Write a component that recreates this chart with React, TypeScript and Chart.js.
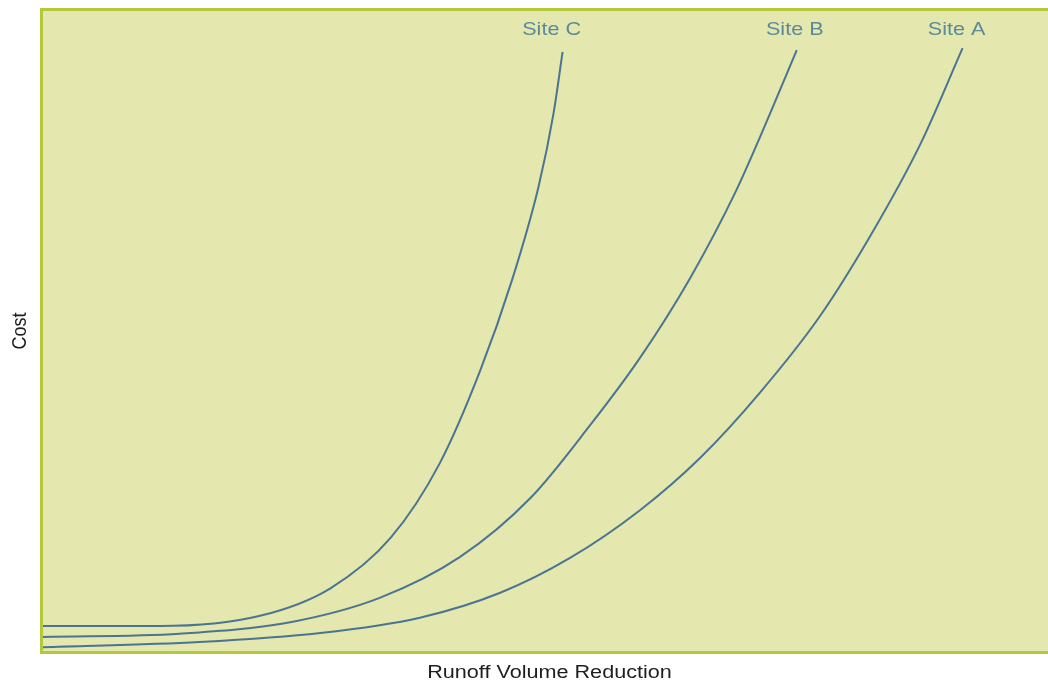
import React, { useEffect, useRef } from "react";
import { Chart, registerables } from "chart.js";

Chart.register(...registerables);

// Runoff volume reduction (x, % of axis) and cost (y, % of axis)
const siteAX = [0, 15.6, 27.6, 37.5, 45.5, 52.4, 59.4, 65.4, 71.3, 77.3, 82.3, 87.3, 91.5];
const siteAY = [0.6, 1.4, 2.8, 5.2, 9.1, 14.5, 22.0, 30.2, 40.3, 52.3, 64.8, 79.2, 94.2];

const siteBX = [0, 13.6, 24.6, 33.5, 41.5, 48.5, 54.4, 59.4, 64.4, 68.9, 72.3, 75.0];
const siteBY = [2.2, 2.7, 4.5, 8.3, 14.7, 23.9, 35.2, 45.8, 58.3, 71.7, 83.8, 93.9];

const siteCX = [0, 11.6, 21.6, 28.6, 34.6, 39.5, 43.5, 46.7, 49.3, 50.8, 51.7];
const siteCY = [3.9, 3.9, 5.5, 9.8, 17.7, 29.4, 43.8, 58.1, 72.5, 84.0, 93.6];

const seriesNames = ["Site A", "Site B", "Site C"];
const xTitle = "Runoff Volume Reduction";
const yTitle = "Cost";

const LINE = "#4a7592";
const LABEL = "#5b8a99";
const BG = "#e4e8ae";
const FRAME = "#b4c83c";
const STRETCH = 1.2;

function pts(xs: number[], ys: number[]) {
  return xs.map((x, i) => ({ x, y: ys[i] }));
}

const decor = {
  id: "decor",
  beforeDatasetsDraw(chart: any) {
    const { ctx, chartArea: a } = chart;
    ctx.save();
    ctx.fillStyle = BG;
    ctx.fillRect(a.left, a.top, a.right - a.left, a.bottom - a.top);
    ctx.restore();
  },
  afterDraw(chart: any) {
    const { ctx, chartArea: a } = chart;
    ctx.save();
    ctx.strokeStyle = FRAME;
    ctx.lineWidth = 3;
    ctx.beginPath();
    ctx.moveTo(a.left - 1.5, a.bottom + 1.5);
    ctx.lineTo(a.left - 1.5, a.top - 1.5);
    ctx.lineTo(a.right, a.top - 1.5);
    ctx.moveTo(a.left - 3, a.bottom + 1.5);
    ctx.lineTo(a.right, a.bottom + 1.5);
    ctx.stroke();

    const drawStretched = (text: string, cx: number, baseline: number, color: string) => {
      ctx.save();
      ctx.fillStyle = color;
      ctx.font = "18px 'Liberation Sans', Arial, sans-serif";
      ctx.textAlign = "center";
      ctx.textBaseline = "alphabetic";
      ctx.translate(cx, baseline);
      ctx.scale(STRETCH, 1);
      ctx.fillText(text, 0, 0);
      ctx.restore();
    };

    // series labels at the top end of each curve
    const xs = chart.scales.x;
    const sets = chart.data.datasets;
    const offsets = [-6, -2, -11];
    sets.forEach((ds: any, i: number) => {
      const last = ds.data[ds.data.length - 1];
      drawStretched(ds.label, xs.getPixelForValue(last.x) + offsets[i], 35, LABEL);
    });

    drawStretched(xTitle, (a.left + a.right) / 2 + 4, 678, "#1e1e1e");

    ctx.save();
    ctx.fillStyle = "#1e1e1e";
    ctx.font = "18px 'Liberation Sans', Arial, sans-serif";
    ctx.textAlign = "center";
    ctx.textBaseline = "alphabetic";
    ctx.translate(26, (a.top + a.bottom) / 2);
    ctx.rotate(-Math.PI / 2);
    ctx.scale(1, STRETCH * 0.9);
    ctx.fillText(yTitle, 0, 0);
    ctx.restore();

    ctx.restore();
  },
};

export default function App() {
  const ref = useRef<HTMLCanvasElement>(null);
  useEffect(() => {
    if (!ref.current) return;
    const mk = (label: string, data: any[]) => ({
      label,
      data,
      borderColor: LINE,
      borderWidth: 2,
      pointRadius: 0,
      fill: false,
      cubicInterpolationMode: "monotone" as const,
    });
    const chart = new Chart(ref.current, {
      type: "line",
      data: {
        datasets: [
          mk(seriesNames[0], pts(siteAX, siteAY)),
          mk(seriesNames[1], pts(siteBX, siteBY)),
          mk(seriesNames[2], pts(siteCX, siteCY)),
        ],
      },
      options: {
        responsive: false,
        animation: false,
        layout: { padding: { left: 43, top: 11, right: 0, bottom: 32 } },
        plugins: { legend: { display: false }, tooltip: { enabled: false } },
        scales: {
          x: { type: "linear", min: 0, max: 100, display: false },
          y: { type: "linear", min: 0, max: 100, display: false },
        },
      },
      plugins: [decor],
    });
    return () => chart.destroy();
  }, []);
  return (
    <div style={{ position: "absolute", left: 0, top: 0, width: 1048, height: 683, background: "#fff" }}>
      <canvas ref={ref} width={1048} height={683} />
    </div>
  );
}
